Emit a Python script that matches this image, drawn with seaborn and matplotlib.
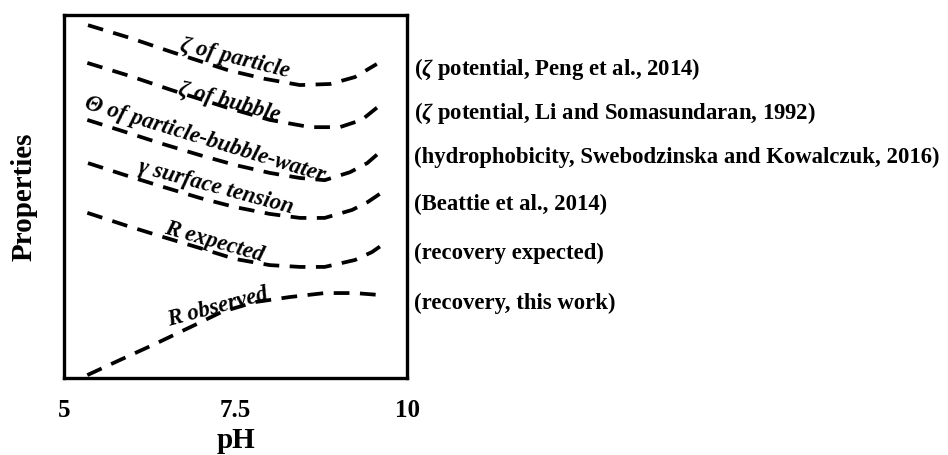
import pandas as pd
import seaborn as sns
import matplotlib.pyplot as plt

# curve values (pH vs arbitrary property level)
ph_particle = [5.35, 5.96, 6.57, 7.39, 7.93, 8.44, 8.88, 9.24, 9.56]
zeta_particle = [9.72, 9.37, 8.98, 8.48, 8.24, 8.07, 8.10, 8.29, 8.65]

ph_bubble = [5.34, 5.96, 6.57, 7.39, 8.0, 8.59, 9.02, 9.34, 9.61]
zeta_bubble = [8.68, 8.32, 7.93, 7.44, 7.11, 6.91, 6.91, 7.11, 7.52]

ph_theta = [5.34, 5.89, 6.40, 6.98, 7.49, 8.0, 8.44, 8.80, 9.17, 9.42, 9.64]
theta = [7.11, 6.78, 6.47, 6.14, 5.87, 5.65, 5.51, 5.45, 5.67, 5.92, 6.28]

ph_gamma = [5.35, 5.89, 6.40, 6.98, 7.49, 8.0, 8.44, 8.80, 9.20, 9.43, 9.64]
gamma = [5.92, 5.59, 5.29, 4.96, 4.71, 4.52, 4.41, 4.41, 4.63, 4.85, 5.12]

ph_rexp = [5.34, 5.89, 6.40, 6.98, 7.49, 8.0, 8.44, 8.80, 9.24, 9.49, 9.68]
r_expected = [4.55, 4.21, 3.91, 3.58, 3.28, 3.11, 3.06, 3.06, 3.25, 3.47, 3.72]

ph_robs = [5.34, 5.82, 6.33, 6.84, 7.30, 7.78, 8.29, 8.80, 9.24, 9.58]
r_observed = [0.08, 0.50, 0.94, 1.40, 1.82, 2.09, 2.23, 2.34, 2.34, 2.29]

# curve labels: text, (x, y) centre, rotation
curve_labels = [
    ("\u03b6 of particle", 7.49, 8.80, -14),
    ("\u03b6 of bubble", 7.41, 7.60, -15),
    ("\u0398 of particle-bubble-water", 7.06, 6.58, -17),
    ("\u03b3 surface tension", 7.22, 5.25, -15),
    ("R expected", 7.19, 3.74, -16),
    ("R observed", 7.24, 1.95, 15),
]

sources = [
    r"($\zeta$ potential, Peng et al., 2014)",
    r"($\zeta$ potential, Li and Somasundaran, 1992)",
    "(hydrophobicity, Swebodzinska and Kowalczuk, 2016)",
    "(Beattie et al., 2014)",
    "(recovery expected)",
    "(recovery, this work)",
]
source_rows = [69, 113, 157, 204, 253, 303]  # pixel rows

xticks = [5, 7.5, 10]
xticklabels = ["5", "7.5", "10"]

sns.set_style("white")
plt.rcParams['font.family'] = ['Liberation Serif', 'DejaVu Serif']
plt.rcParams['font.weight'] = 'bold'
plt.rcParams['text.color'] = 'black'
plt.rcParams['axes.labelcolor'] = 'black'
plt.rcParams['mathtext.fontset'] = 'custom'
plt.rcParams['mathtext.rm'] = 'Liberation Serif:bold'
plt.rcParams['mathtext.it'] = 'Liberation Serif:italic:bold'
plt.rcParams['mathtext.bf'] = 'Liberation Serif:bold'

fig = plt.figure(figsize=(9.48, 4.55), dpi=100)
ax = fig.add_axes([64 / 948, 1 - 378 / 455, (407 - 64) / 948, (378 - 15) / 455])

curves = [
    (ph_particle, zeta_particle),
    (ph_bubble, zeta_bubble),
    (ph_theta, theta),
    (ph_gamma, gamma),
    (ph_rexp, r_expected),
    (ph_robs, r_observed),
]
for xs, ys in curves:
    df = pd.DataFrame({'pH': xs, 'val': ys})
    sns.lineplot(data=df, x='pH', y='val', ax=ax, color='black', lw=2.7,
                 linestyle=(0, (4.2, 2.8)), estimator=None)

for txt, x, y, rot in curve_labels:
    ax.text(x, y, txt, rotation=rot, ha='center', va='center', fontsize=16.5,
            style='italic', fontweight='bold', color='black',
            rotation_mode='anchor')

for txt, row in zip(sources, source_rows):
    fig.text(414 / 948, 1 - row / 455, txt, ha='left', va='center',
             fontsize=16.4, fontweight='bold', color='black')

ax.set_xlim(5, 10)
ax.set_ylim(0, 10)
ax.set_xticks(xticks)
ax.set_xticklabels(xticklabels, fontsize=18, fontweight='bold')
ax.set_yticks([])
ax.tick_params(axis='x', direction='in', length=6, width=2, pad=15,
               colors='black', labelcolor='black')
ax.set_xlabel("pH", fontsize=21, fontweight='bold', labelpad=4)
ax.set_ylabel("Properties", fontsize=21, fontweight='bold', labelpad=19)
for s in ax.spines.values():
    s.set_color('black')
    s.set_linewidth(2.4)

fig.savefig("out.png", dpi=100)
